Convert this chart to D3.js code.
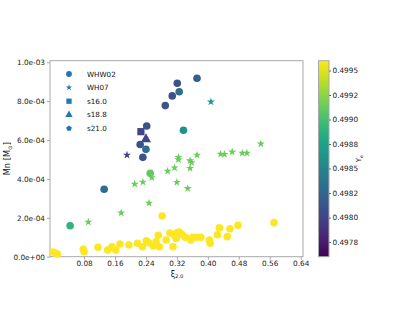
<!DOCTYPE html>
<html><head><meta charset="utf-8">
<script src="https://cdn.jsdelivr.net/npm/d3@7"></script>
<style>
html,body{margin:0;padding:0;background:#fff;}
text{font-family:"DejaVu Sans",sans-serif;}
</style></head>
<body><svg id="c" width="407" height="315"></svg>
<script>
// ---- data (Mn in units of 1e-4 Msun) ----
const whwXi = [0.000,0.005,0.011,0.078,0.080,0.116,0.141,0.152,0.162,0.173,0.196,0.218,0.231,0.241,0.247,0.259,0.266,0.272,0.275,0.282,0.292,0.302,0.313,0.318,0.310,0.320,0.326,0.333,0.342,0.356,0.361,0.371,0.382,0.404,0.406,0.425,0.430,0.450,0.457,0.478,0.571,
  0.132,0.044,0.251,0.232,0.240,0.225,0.242,0.290,0.308,0.321,0.326,0.372,0.337];
const whwMn = [0.24,0.19,0.14,0.38,0.26,0.48,0.34,0.51,0.34,0.65,0.60,0.69,0.51,0.82,0.72,0.55,0.76,1.10,0.51,2.09,0.86,1.22,1.13,0.94,0.51,1.23,1.27,1.15,1.00,0.86,1.00,1.00,1.00,0.86,0.69,1.13,1.48,1.03,1.44,1.62,1.75,
  3.47,1.59,4.29,5.11,5.52,5.77,6.72,7.77,8.27,8.92,8.48,9.18,6.50];
const whwYe = [0.4996,0.4996,0.4996,0.4996,0.4996,0.4996,0.4996,0.4996,0.4996,0.4996,0.4996,0.4996,0.4996,0.4996,0.4996,0.4996,0.4996,0.4996,0.4996,0.4996,0.4996,0.4996,0.4996,0.4996,0.4996,0.4996,0.4996,0.4996,0.4996,0.4996,0.4996,0.4996,0.4996,0.4996,0.4996,0.4996,0.4996,0.4996,0.4996,0.4996,0.4996,
  0.4983,0.4989,0.4991,0.4981,0.4983,0.4981,0.4981,0.4981,0.4981,0.4981,0.4983,0.4982,0.4986];

const wh07Xi = [0.091,0.176,0.248,0.211,0.232,0.255,0.296,0.314,0.324,0.324,0.320,0.348,0.354,0.358,0.354,0.372,0.433,0.443,0.463,0.489,0.501,0.537,0.191,0.408];
const wh07Mn = [1.78,2.26,2.76,3.74,3.84,4.07,4.40,4.57,5.11,5.00,3.83,3.51,4.94,4.84,4.55,5.23,5.28,5.27,5.39,5.33,5.33,5.81,5.23,7.97];
const wh07Ye = [0.49914,0.49914,0.49914,0.49914,0.49914,0.49914,0.49914,0.49914,0.49914,0.49914,0.49914,0.49914,0.49914,0.49914,0.49914,0.49914,0.49914,0.49914,0.49914,0.49914,0.49914,0.49914,0.4980,0.4987];

const s160Xi = [0.227], s160Mn = [6.43], s160Ye = [0.4980];
const s188Xi = [0.240], s188Mn = [6.04], s188Ye = [0.4980];
const s210Xi = [], s210Mn = [], s210Ye = [];

const legendLabels = ["WHW02","WH07","s16.0","s18.8","s21.0"];
const xTicks = [0.08,0.16,0.24,0.32,0.40,0.48,0.56,0.64];
const yTicks = [0,2e-4,4e-4,6e-4,8e-4,1e-3];
const yTickLabels = ["0.0e+00","2.0e-04","4.0e-04","6.0e-04","8.0e-04","1.0e-03"];
const cTicks = [0.49775,0.4980,0.49825,0.4985,0.49875,0.4990,0.49925,0.4995];
const cTickLabels = ["0.4978","0.4980","0.4982","0.4985","0.4988","0.4990","0.4992","0.4995"];

// ---- layout ----
const svg = d3.select("#c");
const L = 50, R = 303, T = 60.7, B = 256.7;
const x = d3.scaleLinear().domain([-0.008, 0.646]).range([L, R]);
const y = d3.scaleLinear().domain([0, 1.008e-3]).range([B, T]);
const cdom = [0.4976, 0.4996];
const color = v => d3.interpolateViridis(Math.max(0, Math.min(1, (v - cdom[0]) / (cdom[1] - cdom[0]))));
const spine = "#a8a8a8";

function pentagon(r){
  const pts = d3.range(5).map(i => { const a = -Math.PI/2 + i*2*Math.PI/5; return [r*Math.cos(a), r*Math.sin(a)]; });
  return "M" + pts.map(p => p.join(",")).join("L") + "Z";
}

// axes
const xAxis = d3.axisBottom(x).tickValues(xTicks).tickFormat(d3.format(".2f")).tickSize(3).tickPadding(1.5);
const yAxis = d3.axisLeft(y).tickValues(yTicks).tickFormat((d,i) => yTickLabels[i]).tickSize(3).tickPadding(2);
const gx = svg.append("g").attr("transform", `translate(0,${B})`).call(xAxis);
const gy = svg.append("g").attr("transform", `translate(${L},0)`).call(yAxis);
[gx, gy].forEach(g => {
  g.select(".domain").remove();
  g.selectAll(".tick line").attr("stroke", spine);
  g.selectAll(".tick text").attr("font-size", 7.3).attr("fill", "#222").attr("font-family", "DejaVu Sans");
});

// frame
svg.append("rect").attr("x", L).attr("y", T).attr("width", R - L).attr("height", B - T)
  .attr("fill", "none").attr("stroke", spine).attr("stroke-width", 1);

const plot = svg.append("g");
function pts(xs, ys, yes){ return xs.map((v,i) => ({x: v, y: ys[i]*1e-4, c: yes[i]})); }

// s16.0 squares
plot.selectAll(".sq").data(pts(s160Xi, s160Mn, s160Ye)).join("path")
  .attr("d", d3.symbol(d3.symbolSquare, 52)())
  .attr("transform", d => `translate(${x(d.x)},${y(d.y)})`).attr("fill", d => color(d.c));
// s18.8 triangles
plot.selectAll(".tr").data(pts(s188Xi, s188Mn, s188Ye)).join("path")
  .attr("d", d3.symbol(d3.symbolTriangle, 45)())
  .attr("transform", d => `translate(${x(d.x)},${y(d.y)})`).attr("fill", d => color(d.c));
// s21.0 pentagons
plot.selectAll(".pe").data(pts(s210Xi, s210Mn, s210Ye)).join("path")
  .attr("d", pentagon(4))
  .attr("transform", d => `translate(${x(d.x)},${y(d.y)})`).attr("fill", d => color(d.c));
// WHW02 circles
plot.selectAll(".ci").data(pts(whwXi, whwMn, whwYe)).join("circle")
  .attr("cx", d => x(d.x)).attr("cy", d => y(d.y)).attr("r", 3.8).attr("fill", d => color(d.c));
// WH07 stars
plot.selectAll(".st").data(pts(wh07Xi, wh07Mn, wh07Ye)).join("path")
  .attr("d", d3.symbol(d3.symbolStar, 21)())
  .attr("transform", d => `translate(${x(d.x)},${y(d.y)})`).attr("fill", d => color(d.c));

// legend
const legC = "#1f77b4";
const legShapes = [
  g => g.append("circle").attr("r", 2.9),
  g => g.append("path").attr("d", d3.symbol(d3.symbolStar, 12)()),
  g => g.append("path").attr("d", d3.symbol(d3.symbolSquare, 28)()),
  g => g.append("path").attr("d", d3.symbol(d3.symbolTriangle, 24)()),
  g => g.append("path").attr("d", pentagon(3))
];
legendLabels.forEach((lab, i) => {
  const gy0 = 74 + i * 13.6;
  const g = svg.append("g").attr("transform", `translate(69,${gy0})`);
  legShapes[i](g).attr("fill", legC);
  svg.append("text").attr("x", 87).attr("y", gy0 + 2.6).attr("font-size", 7.2).attr("fill", "#111").text(lab);
});

// axis labels
const xl = svg.append("text").attr("x", 177).attr("y", 276.5).attr("text-anchor", "middle").attr("font-size", 8).attr("fill", "#111");
xl.append("tspan").text("ξ");
xl.append("tspan").attr("font-size", 5.2).attr("dy", 1.5).text("2.0");

const yl = svg.append("text").attr("transform", `translate(10,${(T+B)/2}) rotate(-90)`).attr("text-anchor", "middle").attr("font-size", 8.3).attr("fill", "#111");
yl.append("tspan").text("Mn [M");
yl.append("tspan").attr("font-size", 5.5).attr("dy", 2).text("⊙");
yl.append("tspan").attr("dy", -2).text("]");

// colorbar
const CL = 318.5, CR = 329, cy = d3.scaleLinear().domain(cdom).range([B, T]);
const grad = svg.append("defs").append("linearGradient").attr("id", "vg").attr("x1", 0).attr("y1", 1).attr("x2", 0).attr("y2", 0);
d3.range(0, 1.0001, 0.05).forEach(t => grad.append("stop").attr("offset", t).attr("stop-color", d3.interpolateViridis(t)));
svg.append("rect").attr("x", CL).attr("y", T).attr("width", CR - CL).attr("height", B - T).attr("fill", "url(#vg)")
  .attr("stroke", spine).attr("stroke-width", 1);
const cAxis = d3.axisRight(cy).tickValues(cTicks).tickFormat((d,i) => cTickLabels[i]).tickSize(2).tickPadding(1.5);
const gc = svg.append("g").attr("transform", `translate(${CR},0)`).call(cAxis);
gc.select(".domain").remove();
gc.selectAll(".tick line").attr("stroke", "#666");
gc.selectAll(".tick text").attr("font-size", 7.3).attr("fill", "#222").attr("font-family", "DejaVu Sans");

const cl = svg.append("text").attr("transform", `translate(361,${(T+B)/2}) rotate(-90)`).attr("text-anchor", "middle").attr("font-size", 7).attr("fill", "#111");
cl.append("tspan").text("Y");
cl.append("tspan").attr("font-size", 4.5).attr("dy", 1.5).text("e");
</script>
</body></html>
